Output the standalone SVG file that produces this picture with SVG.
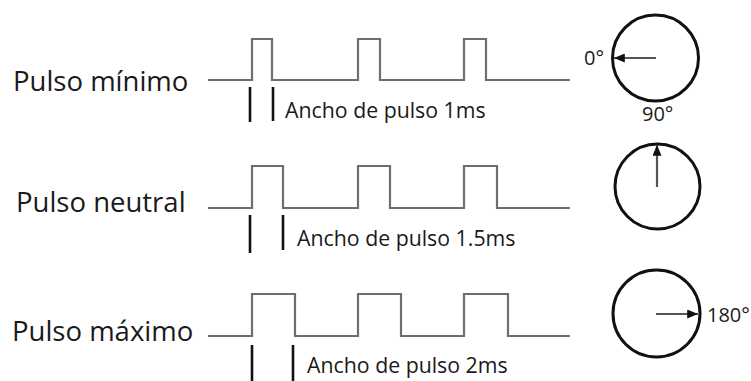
<svg xmlns="http://www.w3.org/2000/svg" width="751" height="381" viewBox="0 0 751 381">
<style>
  .lbl { font-family: "Open Sans", "Liberation Sans", sans-serif; font-size: 27.5px; fill: #1a1a1a; }
  .small { font-family: "Open Sans", "Liberation Sans", sans-serif; font-size: 21.3px; fill: #1a1a1a; }
  .deg { font-family: "Open Sans", "Liberation Sans", sans-serif; font-size: 20px; fill: #1a1a1a; }
  .wave { fill: none; stroke: #6e6e6e; stroke-width: 2.2; stroke-linejoin: miter; }
  .tick { stroke: #111; stroke-width: 2.6; }
  .dial { fill: none; stroke: #111; stroke-width: 3; }
  .needle { stroke: #555; stroke-width: 2.2; marker-end: url(#ah); }
</style>
<defs>
  <marker id="ah" viewBox="0 0 12 10" refX="12" refY="5" markerWidth="12" markerHeight="9" markerUnits="userSpaceOnUse" orient="auto">
    <path d="M0,0 L12,5 L0,10 Z" fill="#111"/>
  </marker>
</defs>
<rect width="751" height="381" fill="#ffffff"/>

<g id="row-minimo">
  <text class="lbl" x="13" y="91">Pulso mínimo</text>
  <path class="wave" d="M208,80 H252 V39 H272 V80 H358 V39 H380 V80 H464 V39 H486 V80 H570"/>
  <line class="tick" x1="250" y1="87" x2="250" y2="122"/>
  <line class="tick" x1="273" y1="87" x2="273" y2="121"/>
  <text class="small" x="285" y="118">Ancho de pulso 1ms</text>
</g>

<g id="row-neutral">
  <text class="lbl" x="16" y="212">Pulso neutral</text>
  <path class="wave" d="M208,208 H252 V166 H283 V208 H358 V166 H390 V208 H464 V166 H497 V208 H570"/>
  <line class="tick" x1="250" y1="215" x2="250" y2="253"/>
  <line class="tick" x1="283" y1="215" x2="283" y2="250"/>
  <text class="small" x="297" y="246">Ancho de pulso 1.5ms</text>
</g>

<g id="row-maximo">
  <text class="lbl" x="12" y="341">Pulso máximo</text>
  <path class="wave" d="M208,336 H252 V294 H295 V336 H358 V294 H401 V336 H464 V294 H508 V336 H570"/>
  <line class="tick" x1="252" y1="345" x2="252" y2="381"/>
  <line class="tick" x1="293" y1="345" x2="293" y2="381"/>
  <text class="small" x="307" y="373">Ancho de pulso 2ms</text>
</g>

<g id="dial-0">
  <circle class="dial" cx="655.5" cy="58" r="43"/>
  <text class="deg" x="584" y="65">0°</text>
</g>
<g id="dial-90">
  <circle class="dial" cx="657.5" cy="186.5" r="42.5"/>
  <text class="deg" x="642" y="121">90°</text>
</g>
<g id="dial-180">
  <circle class="dial" cx="656.5" cy="313.5" r="43.5"/>
  <text class="deg" x="707" y="322">180°</text>
</g>

<g id="connectors">
  <line class="needle" x1="656" y1="58" x2="614" y2="58"/>
  <line class="needle" x1="657" y1="187" x2="657" y2="145"/>
  <line class="needle" x1="656" y1="314" x2="698" y2="314"/>
</g>
</svg>
